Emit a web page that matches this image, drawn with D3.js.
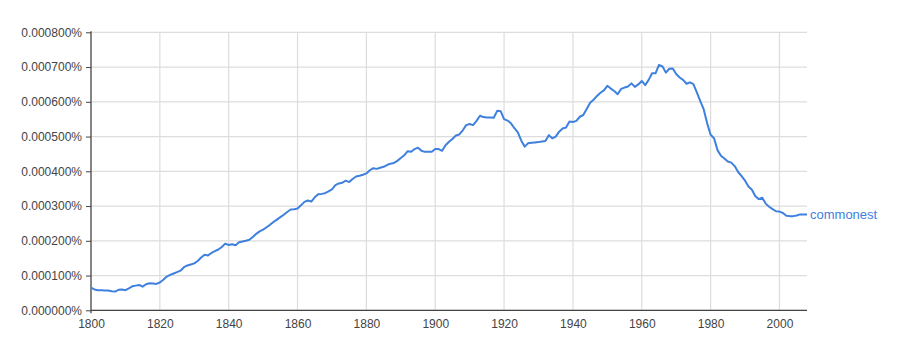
<!DOCTYPE html>
<html>
<head>
<meta charset="utf-8">
<script src="https://cdn.jsdelivr.net/npm/d3@7/dist/d3.min.js"></script>
<style>
    body { margin: 0; background: #ffffff; }
    .chart text { font-family: Arial, "Liberation Sans", Helvetica, sans-serif; }
</style>
</head>
<body>
<div class="chart"></div>
<script>
// frequency of "commonest", in units of 0.0001 %
var firstYear = 1800;
var lastYear = 2008;
var usage = [
    0.65, 0.60, 0.58, 0.575, 0.57, 0.57, 0.55, 0.54, 0.59, 0.60,
    0.58, 0.63, 0.69, 0.71, 0.73, 0.68, 0.75, 0.78, 0.77, 0.76,
    0.80, 0.88, 0.97, 1.02, 1.06, 1.10, 1.14, 1.24, 1.29, 1.32,
    1.35, 1.42, 1.52, 1.60, 1.58, 1.65, 1.70, 1.75, 1.82, 1.92,
    1.88, 1.90, 1.87, 1.96, 1.98, 2.00, 2.03, 2.11, 2.20, 2.27,
    2.32, 2.39, 2.46, 2.54, 2.61, 2.68, 2.75, 2.83, 2.90, 2.91,
    2.93, 3.02, 3.12, 3.16, 3.13, 3.25, 3.34, 3.35, 3.37, 3.42,
    3.48, 3.60, 3.65, 3.67, 3.73, 3.69, 3.78, 3.85, 3.87, 3.90,
    3.94, 4.03, 4.09, 4.07, 4.10, 4.13, 4.18, 4.22, 4.24, 4.30,
    4.38, 4.46, 4.58, 4.56, 4.64, 4.68, 4.59, 4.56, 4.56, 4.56,
    4.64, 4.64, 4.59, 4.75, 4.85, 4.93, 5.03, 5.06, 5.18, 5.33,
    5.36, 5.33, 5.45, 5.60, 5.56, 5.55, 5.55, 5.54, 5.74, 5.73,
    5.50, 5.46, 5.38, 5.24, 5.12, 4.88, 4.71, 4.81, 4.82, 4.83,
    4.84, 4.86, 4.87, 5.04, 4.95, 5.00, 5.14, 5.23, 5.26, 5.43,
    5.42, 5.45, 5.57, 5.62, 5.79, 5.97, 6.06, 6.17, 6.26, 6.33,
    6.46, 6.38, 6.31, 6.22, 6.37, 6.41, 6.44, 6.53, 6.43, 6.50,
    6.60, 6.48, 6.63, 6.82, 6.82, 7.06, 7.02, 6.84, 6.95, 6.96,
    6.80, 6.70, 6.63, 6.52, 6.56, 6.51, 6.27, 6.02, 5.78, 5.38,
    5.05, 4.95, 4.61, 4.45, 4.37, 4.28, 4.25, 4.15, 3.98, 3.86,
    3.73, 3.56, 3.47, 3.28, 3.20, 3.24, 3.07, 2.98, 2.91, 2.85,
    2.84, 2.80, 2.72, 2.71, 2.71, 2.73, 2.76, 2.76, 2.76
];
var xTicks = [1800, 1820, 1840, 1860, 1880, 1900, 1920, 1940, 1960, 1980, 2000];
var yTicks = [0, 1, 2, 3, 4, 5, 6, 7, 8];
var seriesName = "commonest";

var width = 900, height = 340;
var plotLeft = 91, plotRight = 807, plotTop = 32.3, plotBottom = 310.3;
var lineColor = "#3f80de";
var axisColor = "#444444";

var svg = d3.select(".chart").append("svg")
    .attr("width", width)
    .attr("height", height);

var x = d3.scaleLinear().domain([firstYear, lastYear]).range([plotLeft, plotRight]);
var y = d3.scaleLinear().domain([0, 8]).range([plotBottom, plotTop]);

var points = usage.map(function (v, i) { return { year: firstYear + i, value: v }; });

/*
    Grid
*/
svg.append("g").selectAll("line").data(yTicks).enter().append("line")
    .attr("x1", plotLeft).attr("x2", plotRight)
    .attr("y1", function (d) { return y(d); })
    .attr("y2", function (d) { return y(d); })
    .attr("stroke", "#dddddd")
    .attr("stroke-width", 1.2);
svg.append("g").selectAll("line").data(xTicks.slice(1)).enter().append("line")
    .attr("y1", plotTop).attr("y2", plotBottom)
    .attr("x1", function (d) { return x(d); })
    .attr("x2", function (d) { return x(d); })
    .attr("stroke", "#dddddd")
    .attr("stroke-width", 1.2);

/*
    Axes
*/
var yAxis = d3.axisLeft(y)
    .tickValues(yTicks)
    .tickSize(5)
    .tickPadding(4)
    .tickFormat(function (d) { return (d / 10000).toFixed(6) + "%"; });
var gy = svg.append("g").attr("transform", "translate(" + plotLeft + ",0)").call(yAxis);
gy.select(".domain").remove();
gy.selectAll("line").attr("stroke", axisColor);
gy.selectAll("text").attr("font-size", 12).attr("fill", axisColor);

var xAxis = d3.axisBottom(x)
    .tickValues(xTicks)
    .tickSize(0)
    .tickPadding(9)
    .tickFormat(d3.format("d"));
var gx = svg.append("g").attr("transform", "translate(0," + plotBottom + ")").call(xAxis);
gx.select(".domain").remove();
gx.selectAll("text").attr("font-size", 12).attr("fill", axisColor);

svg.append("line")
    .attr("x1", plotLeft).attr("x2", plotRight)
    .attr("y1", plotBottom).attr("y2", plotBottom)
    .attr("stroke", axisColor)
    .attr("stroke-width", 1.3);
svg.append("line")
    .attr("x1", plotLeft).attr("x2", plotLeft)
    .attr("y1", plotTop - 1).attr("y2", plotBottom + 3)
    .attr("stroke", axisColor)
    .attr("stroke-width", 1.3);

/*
    Series
*/
var line = d3.line()
    .x(function (d) { return x(d.year); })
    .y(function (d) { return y(d.value); });
svg.append("path")
    .datum(points)
    .attr("d", line)
    .attr("fill", "none")
    .attr("stroke", lineColor)
    .attr("stroke-width", 2)
    .attr("stroke-linejoin", "round");

var last = points[points.length - 1];
svg.append("text")
    .attr("x", x(last.year) + 3)
    .attr("y", y(last.value))
    .attr("dy", ".35em")
    .attr("font-size", 13)
    .attr("fill", lineColor)
    .text(seriesName);
</script>
</body>
</html>
